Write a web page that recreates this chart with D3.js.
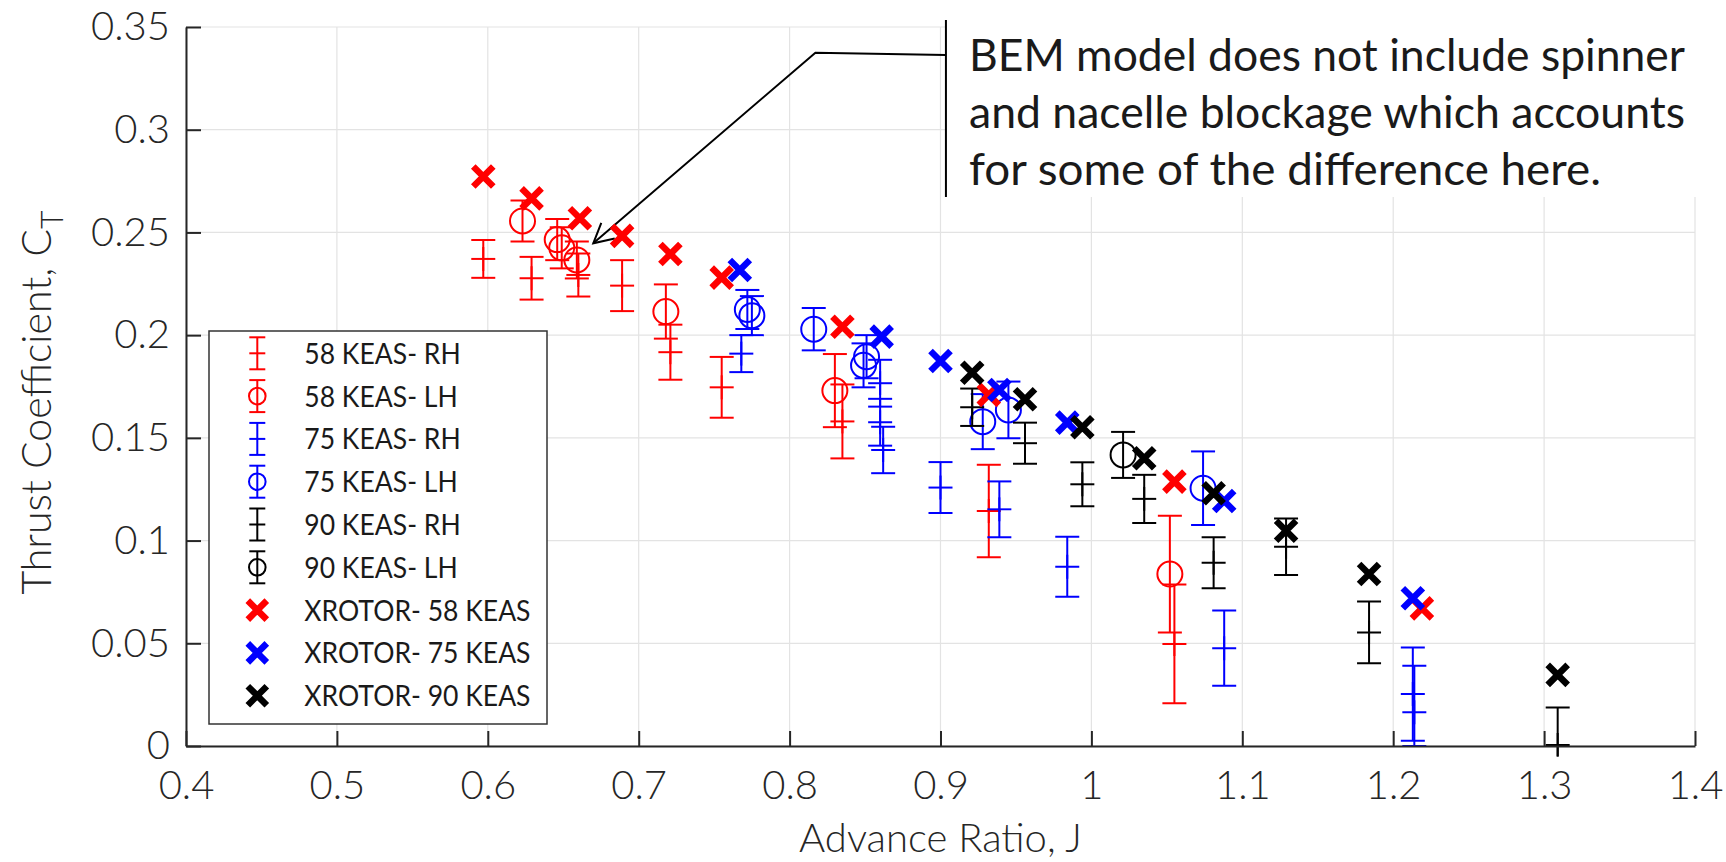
<!DOCTYPE html>
<html>
<head>
<meta charset="utf-8">
<script src="https://cdn.jsdelivr.net/npm/d3@7"></script>
<style>
  html, body { margin: 0; padding: 0; background: #ffffff; }
  svg { display: block; }
</style>
</head>
<body>
<svg id="chart" width="1726" height="862"></svg>
<script>
// ---------------- DATA ----------------
const xTicks = [0.4, 0.5, 0.6, 0.7, 0.8, 0.9, 1.0, 1.1, 1.2, 1.3, 1.4];
const xTickLabels = ["0.4", "0.5", "0.6", "0.7", "0.8", "0.9", "1", "1.1", "1.2", "1.3", "1.4"];
const yTicks = [0, 0.05, 0.1, 0.15, 0.2, 0.25, 0.3, 0.35];
const yTickLabels = ["0", "0.05", "0.1", "0.15", "0.2", "0.25", "0.3", "0.35"];

// [J, CT, err] or [J, CT, errLow, errHigh]
const rh58 = [
  [0.597, 0.2371, 0.0092], [0.629, 0.2277, 0.0104], [0.660, 0.2293, 0.0105],
  [0.689, 0.2241, 0.0124], [0.721, 0.1917, 0.0134], [0.755, 0.1746, 0.0148],
  [0.835, 0.1580, 0.0180], [0.932, 0.1144, 0.0225], [1.055, 0.0497, 0.0289]
];
const lh58 = [
  [0.623, 0.2556, 0.0100], [0.646, 0.2465, 0.0100], [0.649, 0.2425, 0.0100],
  [0.659, 0.2366, 0.0090], [0.718, 0.2115, 0.0132], [0.830, 0.1730, 0.0178],
  [1.052, 0.0837, 0.0284]
];
const rh75 = [
  [0.768, 0.1910, 0.0090], [0.860, 0.1766, 0.0114], [0.860, 0.1576, 0.0114],
  [0.862, 0.1441, 0.0113], [0.900, 0.1258, 0.0124], [0.939, 0.1152, 0.0136],
  [0.984, 0.0873, 0.0146], [1.088, 0.0476, 0.0183], [1.213, 0.0253, 0.0227],
  [1.214, 0.0164, 0.0164, 0.0227]
];
const lh75 = [
  [0.772, 0.2125, 0.0095], [0.775, 0.2095, 0.0095], [0.816, 0.2029, 0.0103],
  [0.849, 0.1853, 0.0107], [0.851, 0.1895, 0.0105], [0.928, 0.1579, 0.0134],
  [0.945, 0.1636, 0.0138], [1.074, 0.1255, 0.0179]
];
const rh90 = [
  [0.921, 0.1649, 0.0091], [0.956, 0.1474, 0.0100], [0.994, 0.1274, 0.0107],
  [1.035, 0.1203, 0.0117], [1.081, 0.0892, 0.0124], [1.129, 0.0970, 0.0137],
  [1.184, 0.0553, 0.0150], [1.309, 0.0005, 0.0183]
];
const lh90 = [
  [1.021, 0.1417, 0.0112]
];
const xr58J  = [0.597, 0.629, 0.661, 0.689, 0.721, 0.755, 0.835, 0.932, 1.055, 1.219];
const xr58CT = [0.2772, 0.2666, 0.2569, 0.2483, 0.2395, 0.2280, 0.2041, 0.1709, 0.1287, 0.0670];
const xr75J  = [0.767, 0.861, 0.900, 0.939, 0.984, 1.088, 1.213];
const xr75CT = [0.2317, 0.1993, 0.1874, 0.1733, 0.1574, 0.1193, 0.0719];
const xr90J  = [0.921, 0.956, 0.994, 1.035, 1.081, 1.129, 1.184, 1.309];
const xr90CT = [0.1817, 0.1688, 0.1552, 0.1401, 0.1230, 0.1048, 0.0837, 0.0346];

const legendLabels = ["58 KEAS- RH", "58 KEAS- LH", "75 KEAS- RH", "75 KEAS- LH",
  "90 KEAS- RH", "90 KEAS- LH", "XROTOR- 58 KEAS", "XROTOR- 75 KEAS", "XROTOR- 90 KEAS"];
const annotationLines = ["BEM model does not include spinner",
  "and nacelle blockage which accounts", "for some of the difference here."];
// arrow path in data coordinates (start at text box, knee, tip)
const arrowJ  = [0.9036, 0.8171, 0.6699];
const arrowCT = [0.3364, 0.3375, 0.2447];

// ---------------- LAYOUT ----------------
const L = 186, R = 1695, T = 27, B = 746;
const svg = d3.select("#chart");
const x = d3.scaleLinear().domain([0.4, 1.4]).range([L, R]);
const y = d3.scaleLinear().domain([0, 0.35]).range([B, T]);
const axisColor = "#262626";
const tickFont = "'Lato', 'Open Sans', sans-serif";

// grid
const grid = svg.append("g");
grid.selectAll("line.gx").data(xTicks).join("line")
  .attr("x1", d => x(d)).attr("x2", d => x(d)).attr("y1", T).attr("y2", B)
  .attr("stroke", "#e3e3e3").attr("stroke-width", 1.2);
grid.selectAll("line.gy").data(yTicks).join("line")
  .attr("y1", d => y(d)).attr("y2", d => y(d)).attr("x1", L).attr("x2", R)
  .attr("stroke", "#e3e3e3").attr("stroke-width", 1.2);

// annotation text box (white background covering grid)
const boxX = x(arrowJ[0]);
svg.append("rect").attr("x", boxX).attr("y", 20).attr("width", 1726 - boxX).attr("height", 177)
  .attr("fill", "#ffffff");
svg.append("line").attr("x1", boxX).attr("x2", boxX).attr("y1", 20).attr("y2", 197)
  .attr("stroke", "#000").attr("stroke-width", 2);
const annWidths = [716, 716, 632];
svg.append("g").selectAll("text").data(annotationLines).join("text")
  .attr("x", 969).attr("y", (d, i) => 71 + i * 57)
  .attr("font-family", "'Lato', 'Open Sans', sans-serif").attr("font-size", 44)
  .attr("fill", "#1a1a1a")
  .attr("textLength", (d, i) => annWidths[i]).attr("lengthAdjust", "spacingAndGlyphs")
  .text(d => d);

// arrow
const arrowPts = arrowJ.map((j, i) => [x(j), y(arrowCT[i])]);
svg.append("path").attr("d", d3.line()(arrowPts)).attr("fill", "none")
  .attr("stroke", "#000").attr("stroke-width", 2);
{
  const tip = arrowPts[2], prev = arrowPts[1];
  const ang = Math.atan2(prev[1] - tip[1], prev[0] - tip[0]);
  const len = 22, spread = 28 * Math.PI / 180;
  const w1 = [tip[0] + len * Math.cos(ang - spread), tip[1] + len * Math.sin(ang - spread)];
  const w2 = [tip[0] + len * Math.cos(ang + spread), tip[1] + len * Math.sin(ang + spread)];
  svg.append("path").attr("d", d3.line()([w1, tip, w2])).attr("fill", "none")
    .attr("stroke", "#000").attr("stroke-width", 2);
}

// clip
svg.append("defs").append("clipPath").attr("id", "plotclip")
  .append("rect").attr("x", L - 20).attr("y", T - 20).attr("width", R - L + 40).attr("height", B - T + 20 + 10.5);

const plot = svg.append("g").attr("clip-path", "url(#plotclip)");

function drawErr(data, color, marker) {
  const g = plot.append("g").attr("stroke", color).attr("fill", "none").attr("stroke-width", 2);
  const cap = 12;
  data.forEach(d => {
    const lo = d[2];
    const hi = d.length > 3 ? d[3] : d[2];
    const cx = x(d[0]), cy = y(d[1]), y0 = y(d[1] - lo), y1 = y(d[1] + hi);
    g.append("line").attr("x1", cx).attr("x2", cx).attr("y1", y0).attr("y2", y1);
    g.append("line").attr("x1", cx - cap).attr("x2", cx + cap).attr("y1", y0).attr("y2", y0);
    g.append("line").attr("x1", cx - cap).attr("x2", cx + cap).attr("y1", y1).attr("y2", y1);
    if (marker === "+") {
      g.append("line").attr("x1", cx - 12).attr("x2", cx + 12).attr("y1", cy).attr("y2", cy);
      g.append("line").attr("x1", cx).attr("x2", cx).attr("y1", cy - 12).attr("y2", cy + 12);
    } else {
      g.append("circle").attr("cx", cx).attr("cy", cy).attr("r", 12.5);
    }
  });
}
function drawX(js, cts, color) {
  const g = plot.append("g").attr("stroke", color).attr("stroke-width", 6.5);
  const h = 10;
  js.forEach((j, i) => {
    const cx = x(j), cy = y(cts[i]);
    g.append("path").attr("d", `M${cx - h},${cy - h}L${cx + h},${cy + h}M${cx - h},${cy + h}L${cx + h},${cy - h}`);
  });
}

drawErr(rh58, "#ff0000", "+");
drawErr(lh58, "#ff0000", "o");
drawErr(rh75, "#0000ff", "+");
drawErr(lh75, "#0000ff", "o");
drawErr(rh90, "#000000", "+");
drawErr(lh90, "#000000", "o");
drawX(xr58J, xr58CT, "#ff0000");
drawX(xr75J, xr75CT, "#0000ff");
drawX(xr90J, xr90CT, "#000000");

// axes
const yAxis = svg.append("g").attr("transform", `translate(${L},0)`)
  .call(d3.axisLeft(y).tickValues(yTicks).tickFormat((d, i) => yTickLabels[i])
    .tickSizeInner(-15).tickSizeOuter(0).tickPadding(16));
const xAxis = svg.append("g").attr("transform", `translate(0,${B})`)
  .call(d3.axisBottom(x).tickValues(xTicks).tickFormat((d, i) => xTickLabels[i])
    .tickSizeInner(-15).tickSizeOuter(0).tickPadding(25));
[yAxis, xAxis].forEach(a => {
  a.select(".domain").attr("stroke", axisColor).attr("stroke-width", 2);
  a.selectAll(".tick line").attr("stroke", axisColor).attr("stroke-width", 2);
  a.selectAll(".tick text").attr("fill", axisColor).attr("font-family", tickFont)
    .attr("font-size", 40).attr("font-weight", 300);
});

// axis titles
svg.append("text").attr("x", (L + R) / 2).attr("y", 852).attr("text-anchor", "middle")
  .attr("font-family", tickFont).attr("font-size", 40).attr("font-weight", 300).attr("fill", axisColor)
  .text("Advance Ratio, J");
const yt = svg.append("text").attr("transform", `translate(51,${(T + B) / 2 + 16}) rotate(-90)`)
  .attr("text-anchor", "middle")
  .attr("font-family", tickFont).attr("font-size", 41).attr("font-weight", 300).attr("fill", axisColor);
yt.append("tspan").text("Thrust Coefficient, C");
yt.append("tspan").attr("font-size", 32).attr("dy", 12).text("T");

// legend
const lg = svg.append("g");
lg.append("rect").attr("x", 209).attr("y", 331).attr("width", 338).attr("height", 393)
  .attr("fill", "#ffffff").attr("stroke", "#333333").attr("stroke-width", 1.5);
const rowY = i => 353.3 + i * 42.8;
const legendColors = ["#ff0000", "#ff0000", "#0000ff", "#0000ff", "#000000", "#000000", "#ff0000", "#0000ff", "#000000"];
legendLabels.forEach((lab, i) => {
  const cy = rowY(i), cx = 257.3, c = legendColors[i];
  const g = lg.append("g").attr("stroke", c).attr("fill", "none");
  if (i < 6) {
    g.attr("stroke-width", 2);
    g.append("line").attr("x1", cx).attr("x2", cx).attr("y1", cy - 16).attr("y2", cy + 16);
    g.append("line").attr("x1", cx - 8).attr("x2", cx + 8).attr("y1", cy - 16).attr("y2", cy - 16);
    g.append("line").attr("x1", cx - 8).attr("x2", cx + 8).attr("y1", cy + 16).attr("y2", cy + 16);
    if (i % 2 === 0) {
      g.append("line").attr("x1", cx - 8).attr("x2", cx + 8).attr("y1", cy).attr("y2", cy);
    } else {
      g.append("circle").attr("cx", cx).attr("cy", cy).attr("r", 8.3);
    }
  } else {
    g.attr("stroke-width", 6.5);
    const h = 9.5;
    g.append("path").attr("d", `M${cx - h},${cy - h}L${cx + h},${cy + h}M${cx - h},${cy + h}L${cx + h},${cy - h}`);
  }
  const t = lg.append("text").attr("x", 304.3).attr("y", cy + 10.5)
    .attr("font-family", tickFont).attr("font-size", 29).attr("fill", "#1a1a1a")
    .text(lab);
  const w = t.node().getComputedTextLength();
  t.attr("textLength", w * 0.915).attr("lengthAdjust", "spacingAndGlyphs");
});
</script>
</body>
</html>
